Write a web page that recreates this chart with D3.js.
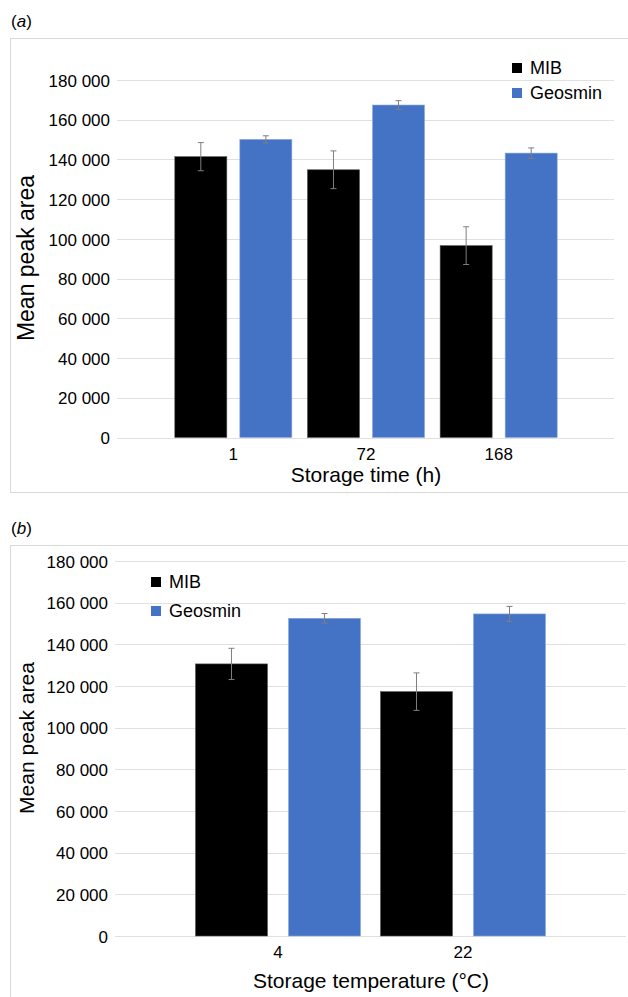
<!DOCTYPE html>
<html>
<head>
<meta charset="utf-8">
<script src="https://cdn.jsdelivr.net/npm/d3@7"></script>
<style>
  html, body { margin: 0; padding: 0; background: #fff; }
  svg { display: block; font-family: "Liberation Sans", Arial, Helvetica, sans-serif; }
</style>
</head>
<body>
<svg id="fig" width="628" height="997"></svg>
<script>
// ---- data ----
const seriesNames = ["MIB", "Geosmin"];
const seriesColors = ["#000000", "#4472C4"];

const timeCategories = ["1", "72", "168"];
const timeMIB = [141400, 134800, 96600];
const timeMIBErr = [7100, 9500, 9500];
const timeGeosmin = [150100, 167400, 143200];
const timeGeosminErr = [1800, 2200, 2600];

const tempCategories = ["4", "22"];
const tempMIB = [130600, 117300];
const tempMIBErr = [7500, 9000];
const tempGeosmin = [152500, 154600];
const tempGeosminErr = [2300, 3600];

const yTicks = [0, 20000, 40000, 60000, 80000, 100000, 120000, 140000, 160000, 180000];

const svg = d3.select("#fig");
const fmt = v => v === 0 ? "0" : d3.format(",")(v).replace(/,/g, " ");

function panel(opt) {
  const g = svg.append("g");

  // panel letter
  const lab = g.append("text").attr("x", opt.letterX).attr("y", opt.letterY)
    .attr("font-size", 17).attr("fill", "#000");
  lab.append("tspan").text("(");
  lab.append("tspan").attr("font-style", "italic").text(opt.letter);
  lab.append("tspan").text(")");

  // chart frame
  g.append("rect").attr("x", opt.frame[0]).attr("y", opt.frame[1])
    .attr("width", opt.frame[2]).attr("height", opt.frame[3])
    .attr("fill", "none").attr("stroke", "#d9d9d9").attr("stroke-width", 1);

  const y = d3.scaleLinear().domain([0, 180000]).range(opt.yRange);
  const x0 = d3.scaleBand().domain(opt.categories).range(opt.xRange).paddingInner(0).paddingOuter(0);
  const x1 = d3.scaleBand().domain(seriesNames).range([0, x0.bandwidth()])
    .paddingInner(opt.pInner).paddingOuter(opt.pOuter);

  // gridlines
  g.append("g").selectAll("line").data(yTicks).join("line")
    .attr("x1", opt.gridX[0]).attr("x2", opt.gridX[1])
    .attr("y1", d => Math.round(y(d)) + 0.5).attr("y2", d => Math.round(y(d)) + 0.5)
    .attr("stroke", "#e0e0e0").attr("stroke-width", 1);

  // y axis labels
  const yAxis = d3.axisLeft(y).tickValues(yTicks).tickFormat(fmt).tickSize(0).tickPadding(0);
  const ya = g.append("g").attr("transform", `translate(${opt.yLabelX},0)`).call(yAxis);
  ya.select(".domain").remove();
  ya.selectAll("text").attr("font-size", 17).attr("fill", "#000")
    .attr("font-family", "'Liberation Sans', Arial, sans-serif").attr("dy", "0.36em");

  // x axis labels
  const xAxis = d3.axisBottom(x0).tickSize(0).tickPadding(0);
  const xa = g.append("g").attr("transform", `translate(0,${opt.xLabelY})`).call(xAxis);
  xa.select(".domain").remove();
  xa.selectAll("text").attr("font-size", 17).attr("fill", "#000")
    .attr("font-family", "'Liberation Sans', Arial, sans-serif").attr("dy", 0);

  // bars
  const rows = opt.categories.map((c, i) => ({
    cat: c,
    vals: [
      { s: 0, v: opt.mib[i], e: opt.mibErr[i] },
      { s: 1, v: opt.geo[i], e: opt.geoErr[i] }
    ]
  }));
  const grp = g.append("g").selectAll("g").data(rows).join("g")
    .attr("transform", d => `translate(${x0(d.cat)},0)`);
  grp.selectAll("rect").data(d => d.vals).join("rect")
    .attr("x", d => x1(seriesNames[d.s]))
    .attr("width", x1.bandwidth())
    .attr("y", d => y(d.v))
    .attr("height", d => y(0) - y(d.v))
    .attr("fill", d => seriesColors[d.s])
    .attr("stroke", d => d.s === 1 ? "#8eaadb" : "#555")
    .attr("stroke-width", 0.6);

  // error bars
  const eb = grp.selectAll("g.err").data(d => d.vals).join("g").attr("class", "err")
    .attr("stroke", "#7f7f7f").attr("stroke-width", 1);
  const cx = d => x1(seriesNames[d.s]) + x1.bandwidth() / 2;
  eb.append("line").attr("x1", cx).attr("x2", cx)
    .attr("y1", d => y(d.v + d.e)).attr("y2", d => y(d.v - d.e));
  eb.append("line").attr("x1", d => cx(d) - 3).attr("x2", d => cx(d) + 3)
    .attr("y1", d => y(d.v + d.e)).attr("y2", d => y(d.v + d.e));
  eb.append("line").attr("x1", d => cx(d) - 3).attr("x2", d => cx(d) + 3)
    .attr("y1", d => y(d.v - d.e)).attr("y2", d => y(d.v - d.e));

  // axis titles
  g.append("text").attr("transform", `translate(${opt.yTitleX},${opt.yTitleY}) rotate(-90)`)
    .attr("text-anchor", "middle").attr("font-size", opt.yTitleSize).attr("fill", "#000")
    .text("Mean peak area");
  g.append("text").attr("x", opt.xTitleX).attr("y", opt.xTitleY)
    .attr("text-anchor", "middle").attr("font-size", 21).attr("fill", "#000")
    .text(opt.xTitle);

  // legend
  const lg = g.append("g").selectAll("g").data(seriesNames).join("g")
    .attr("transform", (d, i) => `translate(${opt.legendX},${opt.legendY + i * opt.legendStep})`);
  lg.append("rect").attr("x", 0).attr("y", -5).attr("width", 10).attr("height", 10)
    .attr("fill", (d, i) => seriesColors[i]);
  lg.append("text").attr("x", 18).attr("y", 0).attr("dy", "0.36em")
    .attr("font-size", 18).attr("fill", "#000").text(d => d);
}

panel({
  letter: "a", letterX: 11, letterY: 27,
  frame: [10.5, 38.5, 630, 454],
  categories: timeCategories,
  mib: timeMIB, mibErr: timeMIBErr, geo: timeGeosmin, geoErr: timeGeosminErr,
  yRange: [437.5, 80],
  xRange: [167, 565],
  pInner: 0.2, pOuter: 0.12,
  gridX: [117, 614],
  yLabelX: 110,
  xLabelY: 460,
  yTitleX: 34, yTitleY: 258, yTitleSize: 23,
  xTitle: "Storage time (h)", xTitleX: 366, xTitleY: 482,
  legendX: 512, legendY: 68, legendStep: 25
});

panel({
  letter: "b", letterX: 11, letterY: 534,
  frame: [10.5, 545.5, 630, 470],
  categories: tempCategories,
  mib: tempMIB, mibErr: tempMIBErr, geo: tempGeosmin, geoErr: tempGeosminErr,
  yRange: [936, 561],
  xRange: [185.5, 555.5],
  pInner: 0.226, pOuter: 0.1075,
  gridX: [115, 626],
  yLabelX: 108,
  xLabelY: 958,
  yTitleX: 34, yTitleY: 738, yTitleSize: 21,
  xTitle: "Storage temperature (°C)", xTitleX: 371, xTitleY: 988,
  legendX: 151, legendY: 582, legendStep: 29
});
</script>
</body>
</html>
